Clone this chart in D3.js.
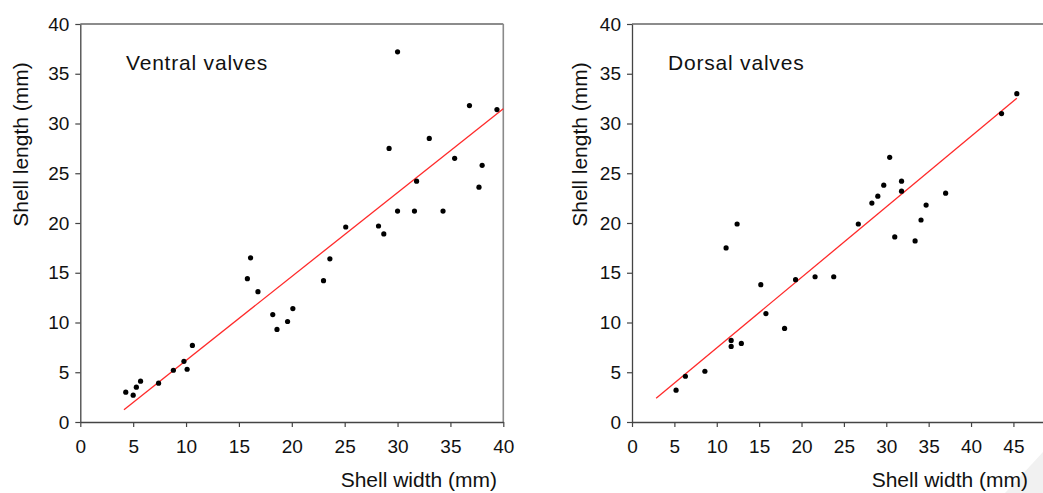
<!DOCTYPE html>
<html>
<head>
<meta charset="utf-8">
<script src="https://cdn.jsdelivr.net/npm/d3@7"></script>
<style>
  html, body { margin: 0; padding: 0; background: #fff; }
  svg { display: block; }
  text { font-family: "Liberation Sans", Arial, sans-serif; fill: #111; }
</style>
</head>
<body>
<svg id="chart" width="1043" height="493"></svg>
<script>
// ---- Data ----
const ventralWidth  = [4.3, 5.0, 5.3, 5.7, 7.4, 8.8, 9.8, 10.1, 10.6, 15.8, 16.1, 16.8, 18.2, 18.6, 19.6, 20.1, 23.0, 23.6, 25.1, 28.2, 28.7, 29.2, 30.0, 30.0, 31.6, 31.8, 33.0, 34.3, 35.4, 36.8, 37.7, 38.0, 39.4];
const ventralLength = [3.0, 2.7, 3.5, 4.1, 3.9, 5.2, 6.1, 5.3, 7.7, 14.4, 16.5, 13.1, 10.8, 9.3, 10.1, 11.4, 14.2, 16.4, 19.6, 19.7, 18.9, 27.5, 37.2, 21.2, 21.2, 24.2, 28.5, 21.2, 26.5, 31.8, 23.6, 25.8, 31.4];
const ventralFit = [[4.13, 1.24], [40, 31.49]];

const dorsalWidth  = [5.2, 6.3, 8.6, 11.1, 11.7, 11.7, 12.4, 12.9, 15.2, 15.8, 18.0, 19.3, 21.6, 23.8, 26.7, 28.3, 29.0, 29.7, 30.4, 31.0, 31.8, 31.8, 33.4, 34.1, 34.7, 37.0, 43.6, 45.4];
const dorsalLength = [3.2, 4.6, 5.1, 17.5, 8.2, 7.6, 19.9, 7.9, 13.8, 10.9, 9.4, 14.3, 14.6, 14.6, 19.9, 22.0, 22.7, 23.8, 26.6, 18.6, 24.2, 23.2, 18.2, 20.3, 21.8, 23.0, 31.0, 33.0];
const dorsalFit = [[2.85, 2.38], [45.4, 32.53]];

const yTicks = [0, 5, 10, 15, 20, 25, 30, 35, 40];
const xTicksLeft = [0, 5, 10, 15, 20, 25, 30, 35, 40];
const xTicksRight = [0, 5, 10, 15, 20, 25, 30, 35, 40, 45];

const panels = [
  { title: "Ventral valves", xs: ventralWidth, ys: ventralLength, fit: ventralFit,
    xDomain: [0, 40], xRange: [80.3, 503.3], xTicks: xTicksLeft,
    titleX: 126, yTitleX: 28, xTitleEnd: 497 },
  { title: "Dorsal valves", xs: dorsalWidth, ys: dorsalLength, fit: dorsalFit,
    xDomain: [0, 50], xRange: [632, 1055.8], xTicks: xTicksRight,
    titleX: 668, yTitleX: 587, xTitleEnd: 1028 }
];

const svg = d3.select("#chart");

// faint watermark in bottom-right corner
svg.append("path")
  .attr("d", "M1005,493 L1043,452 L1043,493 Z")
  .attr("fill", "#f1f1f1");

const yRange = [422, 24];

panels.forEach(p => {
  const x = d3.scaleLinear().domain(p.xDomain).range(p.xRange);
  const y = d3.scaleLinear().domain([0, 40]).range(yRange);
  const g = svg.append("g");

  // box (top/right)
  g.append("line").attr("x1", p.xRange[0]).attr("x2", p.xRange[1])
    .attr("y1", yRange[1]).attr("y2", yRange[1])
    .attr("stroke", "#666").attr("stroke-width", 1.4);
  g.append("line").attr("x1", p.xRange[1]).attr("x2", p.xRange[1])
    .attr("y1", yRange[1]).attr("y2", yRange[0])
    .attr("stroke", "#8a8a8a").attr("stroke-width", 1.6);

  // axes
  const xAxis = d3.axisBottom(x).tickValues(p.xTicks).tickSize(5).tickPadding(13).tickSizeOuter(0)
    .tickFormat(d3.format("d"));
  const yAxis = d3.axisLeft(y).tickValues(yTicks).tickSize(5).tickPadding(6).tickSizeOuter(0)
    .tickFormat(d3.format("d"));

  const gx = g.append("g").attr("transform", `translate(0,${yRange[0]})`).call(xAxis);
  const gy = g.append("g").attr("transform", `translate(${p.xRange[0]},0)`).call(yAxis);
  [gx, gy].forEach(a => {
    a.select(".domain").attr("stroke", "#444").attr("stroke-width", 1.3);
    a.selectAll(".tick line").attr("stroke", "#444").attr("stroke-width", 1.2);
    a.selectAll(".tick text").attr("font-size", 19).attr("fill", "#111")
      .style("font-family", "'Liberation Sans', Arial, sans-serif");
  });

  // regression line
  g.append("line")
    .attr("x1", x(p.fit[0][0])).attr("y1", y(p.fit[0][1]))
    .attr("x2", x(p.fit[1][0])).attr("y2", y(p.fit[1][1]))
    .attr("stroke", "#ff2a2a").attr("stroke-width", 1.3);

  // points
  g.selectAll("circle.pt").data(p.xs.map((v, i) => [v, p.ys[i]])).enter()
    .append("circle").attr("class", "pt")
    .attr("cx", d => x(d[0])).attr("cy", d => y(d[1]))
    .attr("r", 2.6).attr("fill", "#000");

  // panel label
  g.append("text").attr("x", p.titleX).attr("y", 70)
    .attr("font-size", 21).attr("letter-spacing", "0.8px").text(p.title);

  // axis titles
  g.append("text").attr("x", p.xTitleEnd).attr("y", 487)
    .attr("text-anchor", "end").attr("font-size", 21).text("Shell width (mm)");
  g.append("text")
    .attr("transform", `translate(${p.yTitleX},144.5) rotate(-90)`)
    .attr("text-anchor", "middle").attr("font-size", 21).text("Shell length (mm)");
});
</script>
</body>
</html>
